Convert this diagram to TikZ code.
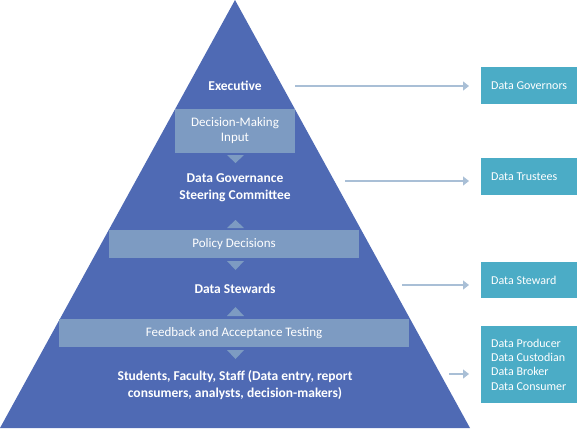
\documentclass[tikz,border=0pt]{standalone}
\usepackage{fontspec}
\setmainfont{Carlito}
\usetikzlibrary{arrows.meta}
\definecolor{pyr}{HTML}{4F6AB4}
\definecolor{lite}{HTML}{7D9BC2}
\definecolor{teal}{HTML}{4BACC6}
\definecolor{conn}{HTML}{A9BFD6}
\begin{document}
\begin{tikzpicture}[x=1pt,y=-1pt,
  lvl/.style={text=white,font=\fontsize{13.5}{16.8}\selectfont\bfseries,align=center},
  band/.style={fill=lite,draw=none},
  bandtxt/.style={text=white,font=\fontsize{13}{15}\selectfont,align=center},
  rbox/.style={fill=teal,draw=none},
  rtxt/.style={text=white,font=\fontsize{12}{14.4}\selectfont,align=left,anchor=west,inner sep=0pt},
  chev/.style={fill=lite,draw=none},
  conn/.style={draw=conn,line width=1.3pt,-{Triangle[length=6pt,width=9pt]}}]
\useasboundingbox (0,0) rectangle (577,429);
% pyramid
\fill[pyr] (235,0) -- (470,428) -- (0,428) -- cycle;
% bands
\fill[band] (175,109) rectangle (295,153);
\node[bandtxt] (dmi) at (235,131) {Decision-Making\\Input};
\fill[band] (109,230) rectangle (359,258);
\node[bandtxt] (pd) at (234,244) {Policy Decisions};
\fill[band] (59,319) rectangle (409,347);
\node[bandtxt] (fat) at (234,333) {Feedback and Acceptance Testing};
% chevrons
\fill[chev] (227,155) -- (244,155) -- (235.5,163) -- cycle;
\fill[chev] (227,228) -- (244,228) -- (235.5,220) -- cycle;
\fill[chev] (227,261) -- (244,261) -- (235.5,270) -- cycle;
\fill[chev] (227,316) -- (244,316) -- (235.5,307) -- cycle;
\fill[chev] (227,350) -- (244,350) -- (235.5,359) -- cycle;
% level labels
\node[lvl] (exe) at (235,86) {Executive};
\node[lvl] (dgsc) at (235,188) {Data Governance\\Steering Committee};
\node[lvl] (ds) at (235,289) {Data Stewards};
\node[lvl] (sfs) at (235,385) {Students, Faculty, Staff (Data entry, report\\consumers, analysts, decision-makers)};
% right boxes
\fill[rbox] (481,67) rectangle (577,104);
\node[rtxt] (gov) at (491,85.5) {Data Governors};
\fill[rbox] (481,158) rectangle (577,195);
\node[rtxt] (tru) at (491,176.5) {Data Trustees};
\fill[rbox] (481,262) rectangle (577,298);
\node[rtxt] (stw) at (491,280) {Data Steward};
\fill[rbox] (481,326) rectangle (577,403);
\node[rtxt] (roles) at (491,364.5) {Data Producer\\Data Custodian\\Data Broker\\Data Consumer};
% connectors
\coordinate (c1s) at (295,86); \coordinate (c1e) at (469,86);
\coordinate (c2s) at (345,181); \coordinate (c2e) at (469,181);
\coordinate (c3s) at (402,285); \coordinate (c3e) at (469,285);
\coordinate (c4s) at (449,374); \coordinate (c4e) at (469,374);
\draw[conn] (c1s) -- (c1e);
\draw[conn] (c2s) -- (c2e);
\draw[conn] (c3s) -- (c3e);
\draw[conn] (c4s) -- (c4e);
\end{tikzpicture}
\end{document}
